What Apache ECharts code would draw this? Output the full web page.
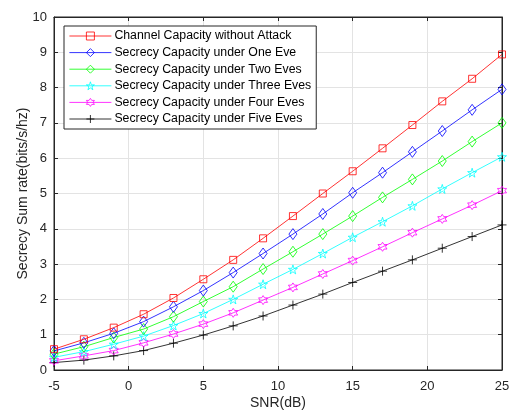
<!DOCTYPE html>
<html>
<head>
<meta charset="utf-8">
<script src="https://cdn.jsdelivr.net/npm/echarts@6/dist/echarts.min.js"></script>
<style>
  html, body { margin: 0; padding: 0; background: #fff; }
  #main { width: 509px; height: 412px; }
</style>
</head>
<body>
<div id="main"></div>
<script>
// data
var snr = [-5, -3, -1, 1, 3, 5, 7, 9, 11, 13, 15, 17, 19, 21, 23, 25];
var noAttack = [0.59, 0.87, 1.2, 1.58, 2.04, 2.57, 3.12, 3.73, 4.36, 5.0, 5.63, 6.28, 6.94, 7.61, 8.25, 8.94];
var oneEve   = [0.54, 0.77, 1.04, 1.37, 1.79, 2.25, 2.76, 3.3, 3.85, 4.42, 5.02, 5.59, 6.18, 6.77, 7.37, 7.95];
var twoEves  = [0.45, 0.66, 0.92, 1.16, 1.51, 1.94, 2.36, 2.86, 3.35, 3.85, 4.36, 4.89, 5.4, 5.92, 6.47, 7.0];
var threeEves= [0.36, 0.52, 0.73, 0.96, 1.26, 1.6, 2.0, 2.43, 2.85, 3.3, 3.76, 4.2, 4.65, 5.13, 5.59, 6.04];
var fourEves = [0.26, 0.4, 0.55, 0.77, 1.02, 1.3, 1.62, 1.98, 2.34, 2.72, 3.1, 3.49, 3.89, 4.28, 4.67, 5.08];
var fiveEves = [0.21, 0.28, 0.4, 0.55, 0.76, 0.99, 1.25, 1.53, 1.84, 2.15, 2.48, 2.8, 3.12, 3.45, 3.78, 4.11];

var names = [
  'Channel Capacity without Attack',
  'Secrecy Capacity under One Eve',
  'Secrecy Capacity under Two Eves',
  'Secrecy Capacity under Three Eves',
  'Secrecy Capacity under Four Eves',
  'Secrecy Capacity under Five Eves'
];
var values = [noAttack, oneEve, twoEves, threeEves, fourEves, fiveEves];
var colors = ['#ff0000', '#0000ff', '#00ff00', '#00ffff', '#ff00ff', '#000000'];

// marker shapes (matlab style), all drawn as outlines
var rectPath = 'path://M0,0L10,0L10,10L0,10Z';
var diamondPath = 'path://M5,0L10,7L5,14L0,7Z';
var starPath = 'path://M10,0L12.25,6.91L19.51,6.91L13.63,11.18L15.88,18.09L10,13.82L4.12,18.09L6.37,11.18L0.49,6.91L7.75,6.91Z';
var hexPath = 'path://M10,0L12.89,5L18.66,5L15.77,10L18.66,15L12.89,15L10,20L7.11,15L1.34,15L4.23,10L1.34,5L7.11,5Z';
var plusPath = 'path://M0,5L10,5M5,0L5,10';
var symbols = [rectPath, diamondPath, diamondPath, starPath, hexPath, plusPath];
var sizes = [7, [8, 11], [8, 11], 9, 9, 9];

var font = 'Liberation Sans, Arial, sans-serif';
var txt = '#262626';

var series = names.map(function (n, i) {
  return {
    name: n,
    type: 'line',
    data: snr.map(function (x, k) { return [x, values[i][k]]; }),
    symbol: symbols[i],
    symbolSize: sizes[i],
    showAllSymbol: true,
    lineStyle: { color: colors[i], width: 0.8 },
    itemStyle: { color: 'rgba(0,0,0,0)', borderColor: colors[i], borderWidth: 0.8 },
    emphasis: { disabled: true },
    animation: false,
    z: 10 - i
  };
});

var chart = echarts.init(document.getElementById('main'));
chart.setOption({
  animation: false,
  backgroundColor: '#fff',
  grid: {
    left: 54, right: 7, top: 17, bottom: 42,
    outerBoundsMode: 'none', containLabel: false,
    show: true, borderColor: txt, borderWidth: 1
  },
  legend: {
    orient: 'vertical',
    left: 64, top: 26,
    padding: [4, 5, 4, 5],
    itemWidth: 42, itemHeight: 10, itemGap: 4.6,
    backgroundColor: '#fff',
    borderColor: txt, borderWidth: 1,
    borderRadius: 0,
    itemStyle: { borderWidth: 0.8 },
    lineStyle: { width: 0.8 },
    textStyle: { fontFamily: font, fontSize: 12.3, color: '#000', padding: [0, 0, 0, -2] },
    data: names
  },
  xAxis: [{
    type: 'value', min: -5, max: 25, interval: 5,
    name: 'SNR(dB)', nameLocation: 'middle', nameGap: 26, nameMoveOverlap: false,
    nameTextStyle: { fontFamily: font, fontSize: 14, color: txt },
    axisLine: { onZero: false, lineStyle: { color: txt } },
    axisTick: { inside: true, length: 4, lineStyle: { color: txt } },
    axisLabel: { fontFamily: font, fontSize: 13, color: txt, margin: 10 },
    splitLine: { lineStyle: { color: '#e3e3e3' } }
  }, {
    type: 'value', min: -5, max: 25, interval: 5, position: 'top',
    axisLine: { onZero: false, lineStyle: { color: txt } },
    axisTick: { inside: true, length: 4, lineStyle: { color: txt } },
    axisLabel: { show: false }, splitLine: { show: false }
  }],
  yAxis: [{
    type: 'value', min: 0, max: 10, interval: 1,
    name: 'Secrecy Sum rate(bits/s/hz)', nameLocation: 'middle', nameGap: 24, nameMoveOverlap: false,
    nameTextStyle: { fontFamily: font, fontSize: 14, color: txt },
    axisLine: { show: true, onZero: false, lineStyle: { color: txt } },
    axisTick: { show: true, inside: true, length: 4, lineStyle: { color: txt } },
    axisLabel: { fontFamily: font, fontSize: 13, color: txt, margin: 7 },
    splitLine: { lineStyle: { color: '#e3e3e3' } }
  }, {
    type: 'value', min: 0, max: 10, interval: 1, position: 'right',
    axisLine: { show: true, onZero: false, lineStyle: { color: txt } },
    axisTick: { show: true, inside: true, length: 4, lineStyle: { color: txt } },
    axisLabel: { show: false }, splitLine: { show: false }
  }],
  series: series
});
</script>
</body>
</html>
